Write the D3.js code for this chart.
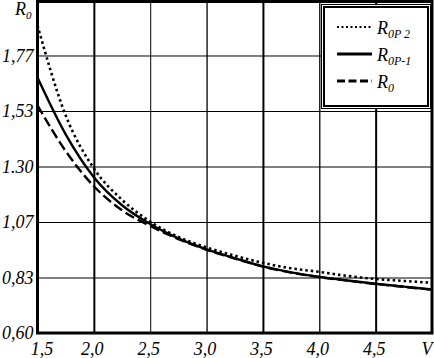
<!DOCTYPE html>
<html>
<head>
<meta charset="utf-8">
<script src="https://cdn.jsdelivr.net/npm/d3@7"></script>
<style>
  body { margin: 0; background: #fff; }
  text { font-family: "Liberation Serif", "Times New Roman", serif; font-style: italic; fill: #000; }
  .axis path { display: none; }
</style>
</head>
<body>
<div id="chart"></div>
<script>
// V values (x axis)
var speeds = [1.5, 1.75, 2.0, 2.25, 2.5, 2.75, 3.0, 3.25, 3.5, 3.75, 4.0, 4.25, 4.5, 4.75, 5.0];

// series
var r0p2 = [1.893, 1.515, 1.292, 1.160, 1.068, 1.004, 0.960, 0.925, 0.895, 0.872, 0.857, 0.840, 0.827, 0.819, 0.811];
var r0p1 = [1.674, 1.435, 1.255, 1.137, 1.058, 0.998, 0.952, 0.915, 0.880, 0.855, 0.836, 0.821, 0.807, 0.795, 0.783];
var r0   = [1.557, 1.365, 1.217, 1.116, 1.050, 0.995, 0.950, 0.913, 0.879, 0.854, 0.835, 0.820, 0.806, 0.794, 0.782];

var xTicks = [1.5, 2.0, 2.5, 3.0, 3.5, 4.0, 4.5, 5.0];
var xTickLabels = ["1,5", "2,0", "2,5", "3,0", "3,5", "4,0", "4,5", "V"];
var yTicks = [0.6, 0.8333, 1.0667, 1.3, 1.5333, 1.7667];
var yTickLabels = ["0,60", "0,83", "1,07", "1.30", "1,53", "1,77"];

document.addEventListener("DOMContentLoaded", function() {
    var W = 434, H = 358;
    var left = 37.5, right = 432, top = 0, bottom = 333;

    var svg = d3.select("#chart")
        .append("svg")
            .attr("width", W)
            .attr("height", H);

    var x = d3.scaleLinear().domain([1.5, 5.0]).range([left, right]);
    var y = d3.scaleLinear().domain([0.6, 2.0]).range([bottom, top]);

    // grid lines
    var gridW = [0, 2, 1, 1.3, 2, 1.3, 2, 0];
    svg.append("g")
        .attr("class", "axis")
        .attr("transform", "translate(0," + bottom + ")")
        .call(d3.axisBottom(x).tickValues(xTicks).tickSize(-(bottom - top)).tickFormat(""))
        .selectAll("line")
        .attr("stroke", "#000")
        .attr("stroke-width", function(d, i) { return gridW[i]; });

    svg.append("g")
        .attr("class", "axis")
        .attr("transform", "translate(" + left + ",0)")
        .call(d3.axisLeft(y).tickValues(yTicks).tickSize(-(right - left)).tickFormat(""))
        .selectAll("line")
        .attr("stroke", "#000")
        .attr("stroke-width", 1);

    // tick labels
    var xAxis = svg.append("g")
        .attr("class", "axis")
        .attr("transform", "translate(0," + bottom + ")")
        .call(d3.axisBottom(x).tickValues(xTicks).tickSize(0).tickPadding(0)
            .tickFormat(function(d, i) { return xTickLabels[i]; }));
    xAxis.selectAll("text")
        .attr("y", 22)
        .attr("dy", 0)
        .attr("dx", function(d, i) { return i === 0 ? 4 : -2; })
        .style("font-size", "18px");
    xAxis.selectAll(".tick:last-of-type text")
        .attr("text-anchor", "end")
        .attr("dx", 0);

    var yAxis = svg.append("g")
        .attr("class", "axis")
        .attr("transform", "translate(" + left + ",0)")
        .call(d3.axisLeft(y).tickValues(yTicks).tickSize(0).tickPadding(4)
            .tickFormat(function(d, i) { return yTickLabels[i]; }));
    yAxis.selectAll("text")
        .attr("dy", "0.33em")
        .style("font-size", "18px");

    // y axis title
    var yTitle = svg.append("text")
        .attr("x", 15)
        .attr("y", 15)
        .style("font-size", "18px");
    yTitle.append("tspan").text("R");
    yTitle.append("tspan").attr("dy", 4).style("font-size", "11px").text("0");

    // curves
    var series = [
        { name: "0P 2", values: r0p2, dash: "2.5,3", width: 2.6 },
        { name: "0P-1", values: r0p1, dash: null, width: 2.4 },
        { name: "0",    values: r0,   dash: "10,4", width: 2.4 }
    ];

    var line = d3.line()
        .x(function(d, i) { return x(speeds[i]); })
        .y(function(d) { return y(d); })
        .curve(d3.curveMonotoneX);

    svg.append("defs").append("clipPath").attr("id", "clip")
        .append("rect")
        .attr("x", left).attr("y", top)
        .attr("width", right - left).attr("height", bottom - top);

    svg.append("g")
        .attr("clip-path", "url(#clip)")
        .selectAll("path")
        .data(series)
        .enter().append("path")
        .attr("d", function(s) { return line(s.values); })
        .attr("fill", "none")
        .attr("stroke", "#000")
        .attr("stroke-width", function(s) { return s.width; })
        .attr("stroke-dasharray", function(s) { return s.dash; });

    // frame
    svg.append("rect")
        .attr("x", left).attr("y", top + 1.5)
        .attr("width", right - left).attr("height", bottom - top - 1.5)
        .attr("fill", "none")
        .attr("stroke", "#000")
        .attr("stroke-width", 3);

    // legend
    var lg = svg.append("g");
    lg.append("rect")
        .attr("x", 321.5).attr("y", 4.5)
        .attr("width", 109).attr("height", 104)
        .attr("fill", "#fff")
        .attr("stroke", "#000")
        .attr("stroke-width", 1);
    lg.append("rect")
        .attr("x", 324).attr("y", 7)
        .attr("width", 104).attr("height", 99)
        .attr("fill", "none")
        .attr("stroke", "#000")
        .attr("stroke-width", 2);

    var rows = lg.selectAll(".row")
        .data(series)
        .enter().append("g")
        .attr("class", "row")
        .attr("transform", function(d, i) { return "translate(0," + (27 + i * 27) + ")"; });

    rows.append("line")
        .attr("x1", 337).attr("x2", 372)
        .attr("y1", 0).attr("y2", 0)
        .attr("stroke", "#000")
        .attr("stroke-width", function(s) { return s.dash === "2.5,3" ? 2 : 3; })
        .attr("stroke-dasharray", function(s) { return s.dash === "2.5,3" ? "2,2.5" : (s.dash ? "8,3.5" : null); });

    var lbl = rows.append("text")
        .attr("x", 377)
        .attr("y", 7)
        .style("font-size", "18px");
    lbl.append("tspan").text("R");
    lbl.append("tspan").attr("dy", 4).style("font-size", "12px")
        .attr("xml:space", "preserve")
        .style("white-space", "pre")
        .text(function(s) { return s.name; });
});
</script>
</body>
</html>
